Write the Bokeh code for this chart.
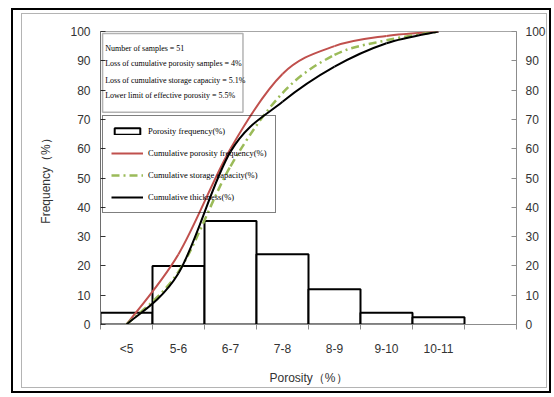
import numpy as np
from bokeh.plotting import figure
from bokeh.layouts import column
from bokeh.models import (Range1d, LinearAxis, FixedTicker, Legend, LegendItem,
                          Label, BoxAnnotation)
from bokeh.embed import file_html
from bokeh.resources import INLINE

# ---------------- data ----------------
categories = ["<5", "5-6", "6-7", "7-8", "8-9", "9-10", "10-11"]
porosity_frequency = [4, 20, 35.3, 24, 12, 4, 2.5]
cum_porosity_frequency = [0, 24, 60, 85.5, 95, 98.5, 100]
cum_storage_capacity = [0, 18, 54, 79, 92, 97, 100]
cum_thickness = [0, 17.5, 59, 76, 88, 96, 100]
y_ticks = [0, 10, 20, 30, 40, 50, 60, 70, 80, 90, 100]
notes = [
    "Number of samples = 51",
    "Loss of cumulative porosity samples = 4%",
    "Loss of cumulative storage capacity = 5.1%",
    "Lower limit of effective porosity = 5.5%",
]
legend_labels = [
    "Porosity frequency(%)",
    "Cumulative porosity frequency(%)",
    "Cumulative storage capacity(%)",
    "Cumulative thickness(%)",
]

centers = (np.arange(len(categories)) + 0.5).tolist()


def smooth_segments(xs, ys):
    """Bezier segments through the given points (Excel-like smoothing)."""
    xs = np.asarray(xs, float)
    ys = np.asarray(ys, float)
    n = len(xs)
    xp = np.concatenate([[xs[0]], xs, [xs[-1]]])
    yp = np.concatenate([[ys[0]], ys, [ys[-1]]])
    return dict(
        x0=xs[:-1], y0=ys[:-1], x1=xs[1:], y1=ys[1:],
        cx0=xs[:-1] + (xp[2:n + 1] - xp[0:n - 1]) / 6.0,
        cy0=ys[:-1] + (yp[2:n + 1] - yp[0:n - 1]) / 6.0,
        cx1=xs[1:] - (xp[3:n + 2] - xp[1:n]) / 6.0,
        cy1=ys[1:] - (yp[3:n + 2] - yp[1:n]) / 6.0,
    )


p = figure(width=526, height=375, x_range=Range1d(0, 8), y_range=Range1d(0, 100),
           output_backend="svg", toolbar_location=None,
           min_border_left=78, min_border_right=31, min_border_top=17,
           min_border_bottom=65,
           styles={"border": "1px solid #b4b4b4"})
p.xgrid.visible = False
p.ygrid.visible = False
p.outline_line_color = "#a6a6a6"
p.background_fill_color = "white"
p.border_fill_color = "white"

axis_color = "#8c8c8c"
tick_font = "Liberation Sans"

# x axis
xa = p.xaxis[0]
xa.ticker = FixedTicker(ticks=centers, minor_ticks=list(range(0, 9)))
xa.major_label_overrides = {c: lab for c, lab in zip(centers, categories)}
xa.major_tick_line_color = None
xa.major_tick_in = 0
xa.major_tick_out = 0
xa.minor_tick_in = 0
xa.minor_tick_out = 5
xa.minor_tick_line_color = axis_color
xa.axis_line_color = axis_color
xa.major_label_standoff = 12
xa.major_label_text_font = tick_font
xa.major_label_text_font_size = "12px"
xa.major_label_text_color = "#333333"
xa.axis_label = "Porosity（%）"
xa.axis_label_standoff = 12
xa.axis_label_text_font = tick_font
xa.axis_label_text_font_size = "12px"
xa.axis_label_text_font_style = "normal"
xa.axis_label_text_color = "#333333"

# left y axis
ya = p.yaxis[0]
ya.ticker = FixedTicker(ticks=y_ticks)
ya.major_tick_in = 5
ya.major_tick_out = 0
ya.minor_tick_line_color = None
ya.axis_line_color = "#6e6e6e"
ya.major_tick_line_color = "#333333"
ya.major_label_standoff = 10
ya.major_label_text_font = tick_font
ya.major_label_text_font_size = "12px"
ya.major_label_text_color = "#333333"
ya.axis_label = "Frequency（%）"
ya.axis_label_standoff = 14
ya.axis_label_text_font = tick_font
ya.axis_label_text_font_size = "12px"
ya.axis_label_text_font_style = "normal"
ya.axis_label_text_color = "#333333"

# right y axis
ra = LinearAxis(ticker=FixedTicker(ticks=y_ticks))
ra.major_tick_in = 5
ra.major_tick_out = 0
ra.minor_tick_line_color = None
ra.axis_line_color = axis_color
ra.major_tick_line_color = axis_color
ra.major_label_standoff = 9
ra.major_label_text_font = tick_font
ra.major_label_text_font_size = "12px"
ra.major_label_text_color = "#333333"
p.add_layout(ra, "right")

# bars
bars = p.vbar(x=centers, width=1, top=porosity_frequency, fill_color="white",
              line_color="black", line_width=2)

# cumulative curves
r_red = p.bezier(**smooth_segments(centers, cum_porosity_frequency),
                 line_color="#c0504d", line_width=2)
r_green = p.bezier(**smooth_segments(centers, cum_storage_capacity),
                   line_color="#9bbb59", line_width=2.5, line_dash="8 4 2 4")
r_black = p.bezier(**smooth_segments(centers, cum_thickness),
                   line_color="black", line_width=2)

legend = Legend(items=[
    LegendItem(label=legend_labels[0], renderers=[bars]),
    LegendItem(label=legend_labels[1], renderers=[r_red]),
    LegendItem(label=legend_labels[2], renderers=[r_green]),
    LegendItem(label=legend_labels[3], renderers=[r_black]),
], location=(2, 111))
legend.border_line_color = "black"
legend.border_line_width = 1.3
legend.background_fill_alpha = 0
legend.padding = 8
legend.margin = 0
legend.spacing = 8
legend.label_height = 14
legend.glyph_height = 8
legend.glyph_width = 32
legend.label_standoff = 5
legend.label_text_font = "Liberation Serif"
legend.label_text_font_size = "8.5px"
legend.label_text_color = "black"
p.add_layout(legend, "center")

# notes box
p.add_layout(BoxAnnotation(left=0.04, right=2.74, top=99.3, bottom=72.4,
                           fill_color=None, line_color="black", line_width=1.5))
note_y = [94.2, 89.1, 83.3, 78.2]
for t, yy in zip(notes, note_y):
    p.add_layout(Label(x=0.09, y=yy, text=t, text_font="Liberation Serif",
                       text_font_size="8px", text_baseline="middle",
                       text_color="black"))

page = column(p, styles={"border": "2px solid black",
                         "padding": "3px 2px 3px 8px",
                         "margin-left": "11px",
                         "margin-top": "8px"})

open("out.html", "w").write(file_html(page, INLINE))
